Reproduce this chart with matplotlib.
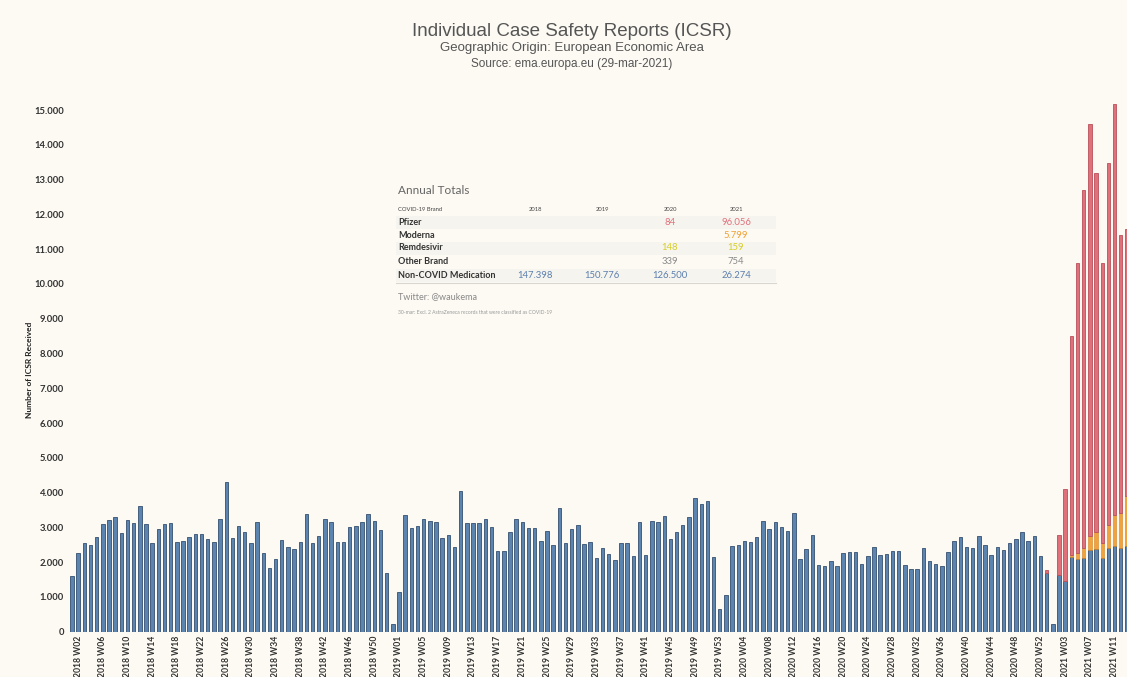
import matplotlib.pyplot as plt
import matplotlib.patches as mpatches
import numpy as np
from matplotlib.ticker import FuncFormatter

# weekly ICSR counts, EEA origin (Tableau weeks: 2018 W01 .. 2021 W13)
years = [2018] * 53 + [2019] * 53 + [2020] * 53 + [2021] * 13
weeks = list(range(1, 54)) * 3 + list(range(1, 14))

non_covid = [
    # 2018
    1610, 2250, 2560, 2500, 2730, 3110, 3200, 3300, 2830, 3200, 3120, 3610, 3090,
    2550, 2960, 3110, 3120, 2570, 2600, 2730, 2800, 2800, 2660, 2580, 3250, 4310,
    2700, 3040, 2860, 2540, 3140, 2250, 1840, 2090, 2630, 2440, 2370, 2590, 3370,
    2560, 2740, 3250, 3150, 2590, 2590, 3000, 3030, 3140, 3380, 3170, 2930, 1700, 210,
    # 2019
    1130, 3360, 2990, 3050, 3240, 3190, 3150, 2680, 2780, 2430, 4050, 3120, 3120,
    3120, 3230, 3000, 2330, 2330, 2880, 3250, 3150, 2970, 2990, 2610, 2900, 2490,
    3550, 2540, 2960, 3060, 2520, 2580, 2130, 2400, 2230, 2070, 2560, 2560, 2180,
    3140, 2210, 3190, 3150, 3320, 2670, 2880, 3060, 3300, 3830, 3660, 3750, 2150, 650,
    # 2020
    1050, 2450, 2490, 2610, 2570, 2730, 3190, 2960, 3150, 3020, 2900, 3420, 2080,
    2380, 2780, 1910, 1880, 2030, 1900, 2270, 2280, 2280, 1940, 2170, 2440, 2200,
    2230, 2320, 2330, 1930, 1800, 1800, 2400, 2030, 1950, 1880, 2300, 2610, 2710,
    2440, 2400, 2750, 2500, 2210, 2440, 2360, 2560, 2660, 2870, 2610, 2750, 2180, 1680,
    # 2021
    220, 1630, 1470, 2150, 2080, 2110, 2350, 2380, 2130, 2400, 2470, 2400, 2450,
]
moderna = [0] * 159 + [0, 0, 0, 45, 170, 290, 400, 490, 430, 670, 880, 1000, 1450]
pfizer = [0] * 158 + [84] + [0, 1150, 2630, 6320, 8340, 10290, 11860, 10330, 8030,
                            10420, 11810, 8000, 7670]

# annual totals table
brands = ["Pfizer", "Moderna", "Remdesivir", "Other Brand", "Non-COVID Medication"]
total_years = ["2018", "2019", "2020", "2021"]
totals_2018 = [None, None, None, None, 147398]
totals_2019 = [None, None, None, None, 150776]
totals_2020 = [84, None, 148, 339, 126500]
totals_2021 = [96056, 5799, 159, 754, 26274]

BG = "#fdfaf3"
BLUE, BLUE_EDGE = "#5b84b1", "#35506f"
ORANGE, ORANGE_EDGE = "#f2a33a", "#d08424"
RED, RED_EDGE = "#e0717b", "#b9505b"
brand_colors = [RED, "#f0a030", "#d6cf2a", "#8a8a8a", "#5b7fae"]

W, H = 1127, 677


def dots(v):
    return f"{int(v):,}".replace(",", ".")


def fx(x):
    return x / W


def fy(y):
    return 1 - y / H


fig = plt.figure(figsize=(W / 100, H / 100), dpi=100)
fig.patch.set_facecolor(BG)

base_y, px_per_k = 631.7, 34.78
ax = fig.add_axes([fx(68.3), (H - base_y) / H, (1130 - 68.3) / W, 15.5 * px_per_k / H])
ax.set_facecolor(BG)

x = np.arange(len(non_covid))
nc = np.array(non_covid)
mo = np.array(moderna)
pf = np.array(pfizer)
bw = 0.56
ax.bar(x, nc, width=bw, color=BLUE, edgecolor=BLUE_EDGE, linewidth=0.6)
m = mo > 0
ax.bar(x[m], mo[m], width=bw, bottom=nc[m], color=ORANGE, edgecolor=ORANGE_EDGE,
       linewidth=0.4)
p = pf > 0
ax.bar(x[p], pf[p], width=bw, bottom=(nc + mo)[p], color=RED, edgecolor=RED_EDGE,
       linewidth=0.6)

ax.set_xlim(-0.6, len(x) - 0.5)
ax.set_ylim(0, 15500)
ax.set_yticks(range(0, 15001, 1000))
ax.yaxis.set_major_formatter(FuncFormatter(lambda v, p: dots(v)))
tick_idx = x[1::4]
ax.set_xticks(tick_idx)
ax.set_xticklabels([f"{years[i]} W{weeks[i]:02d}" for i in tick_idx],
                   rotation=90, fontsize=6.2, fontweight="bold", color="#333333",
                   family="Lato")
for lab in ax.get_yticklabels():
    lab.set_fontsize(6.8)
    lab.set_fontweight("bold")
    lab.set_color("#333333")
    lab.set_family("Lato")
ax.tick_params(length=0, pad=3)
for sp in ax.spines.values():
    sp.set_visible(False)

fig.text(fx(30), fy(370), "Number of ICSR Received", rotation=90, ha="center",
         va="center", fontsize=6, fontweight="bold", color="#222222", family="Lato")

# titles
fig.text(fx(572), fy(31), "Individual Case Safety Reports (ICSR)", ha="center",
         va="center", fontsize=13.5, color="#555555", family="Liberation Sans")
fig.text(fx(572), fy(48), "Geographic Origin: European Economic Area", ha="center",
         va="center", fontsize=9.5, color="#555555", family="Liberation Sans")
fig.text(fx(572), fy(64), "Source: ema.europa.eu (29-mar-2021)", ha="center",
         va="center", fontsize=8.5, color="#555555", family="Liberation Sans")

# annual totals table
fig.text(fx(398), fy(191), "Annual Totals", ha="left", va="center", fontsize=8.5,
         color="#666666", family="Lato")
col_x = [535, 602, 670, 736]
fig.text(fx(398), fy(210), "COVID-19 Brand", ha="left", va="center", fontsize=4.2,
         color="#444444", family="Lato")
for cx, yr in zip(col_x, total_years):
    fig.text(fx(cx), fy(210), yr, ha="center", va="center", fontsize=4.2,
             color="#444444", family="Lato")
row_y = [222, 235, 248, 261, 275]
for i, ry in enumerate(row_y):
    if i % 2 == 0:
        fig.patches.append(mpatches.Rectangle((fx(396), fy(ry + 6.5)), fx(380), 13 / H,
                                              transform=fig.transFigure,
                                              facecolor="#f6f4ee", edgecolor="none",
                                              zorder=0))
    fig.text(fx(398), fy(ry), brands[i], ha="left", va="center", fontsize=6.5,
             fontweight="bold", color="#333333", family="Lato")
    for cx, col in zip(col_x, [totals_2018, totals_2019, totals_2020, totals_2021]):
        if col[i] is not None:
            fig.text(fx(cx), fy(ry), dots(col[i]), ha="center", va="center",
                     fontsize=6.8, color=brand_colors[i], family="Lato")
fig.add_artist(plt.Line2D([fx(396), fx(776)], [fy(283), fy(283)], color="#d8d6d0",
                          lw=0.8))
fig.text(fx(398), fy(297), "Twitter: @waukema", ha="left", va="center", fontsize=6.5,
         color="#888888", family="Lato")
fig.text(fx(398), fy(312),
         "30-mar: Excl. 2 AstraZeneca records that were classified as COVID-19",
         ha="left", va="center", fontsize=3.6, color="#999999", family="Lato")

fig.savefig("out.png", dpi=100, facecolor=BG)
